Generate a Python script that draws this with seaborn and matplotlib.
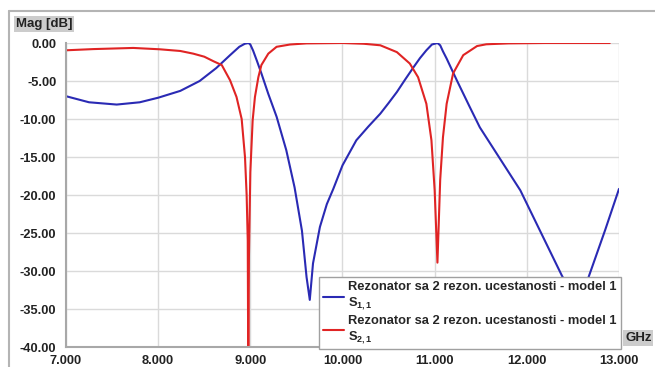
import matplotlib
matplotlib.use("Agg")
import matplotlib.pyplot as plt
import seaborn as sns
import pandas as pd
from matplotlib.lines import Line2D

# S11 (blue)
freq_s11 = [7.00, 7.25, 7.55, 7.80, 8.00, 8.24, 8.45, 8.63, 8.78, 8.88, 8.94, 8.98,
            9.00, 9.03, 9.07, 9.12, 9.195, 9.285, 9.39, 9.48, 9.56, 9.61, 9.645, 9.68,
            9.755, 9.83, 9.90, 10.00, 10.15, 10.28, 10.41, 10.50, 10.59, 10.68,
            10.77, 10.84, 10.91, 10.97, 11.03, 11.06, 11.09, 11.13, 11.24, 11.38, 11.49,
            11.93, 12.38, 12.56, 12.67, 12.85, 13.00]
s11_db = [-7.0, -7.8, -8.1, -7.8, -7.2, -6.3, -5.0, -3.3, -1.6, -0.5, -0.1, 0.0,
          -0.2, -1.0, -2.3, -4.0, -6.7, -9.7, -14.1, -19.0, -24.7, -30.8, -33.8, -29.0,
          -24.2, -21.2, -19.2, -16.1, -12.8, -11.0, -9.3, -7.9, -6.45, -4.8,
          -3.2, -2.0, -0.96, -0.2, 0.0, -0.3, -1.1, -2.05, -4.9, -8.4, -11.1,
          -19.4, -30.6, -34.5, -30.8, -24.6, -19.2]

# S21 (red)
freq_s21 = [7.00, 7.30, 7.73, 8.02, 8.24, 8.38, 8.50, 8.60, 8.69, 8.78, 8.85, 8.906,
            8.942, 8.96, 8.972, 8.978, 8.985, 9.00, 9.025, 9.05, 9.087, 9.12, 9.195,
            9.285, 9.43, 9.61, 10.00, 10.23, 10.41, 10.59, 10.73, 10.82, 10.91,
            10.965, 11.00, 11.03, 11.06, 11.09, 11.13, 11.20, 11.31, 11.46, 11.56,
            11.80, 12.20, 12.90]
s21_db = [-0.96, -0.8, -0.65, -0.83, -1.05, -1.4, -1.8, -2.4, -2.9, -4.9, -7.1, -10.0,
          -15.0, -20.0, -26.0, -45.0, -28.0, -17.0, -10.2, -7.1, -4.5, -2.9, -1.4,
          -0.5, -0.2, -0.05, 0.0, -0.1, -0.3, -1.2, -2.7, -4.5, -8.0,
          -12.8, -19.4, -28.9, -18.0, -12.4, -8.0, -4.0, -1.6, -0.4, -0.17,
          -0.05, 0.0, 0.0]

x_ticks = [7, 8, 9, 10, 11, 12, 13]
y_ticks = [0, -5, -10, -15, -20, -25, -30, -35, -40]
series_name = "Rezonator sa 2 rezon. ucestanosti - model 1"

sns.set_style("white")
plt.rcParams["font.family"] = ["Liberation Sans", "DejaVu Sans"]
plt.rcParams["font.weight"] = "bold"
plt.rcParams["mathtext.fontset"] = "custom"
plt.rcParams["mathtext.rm"] = "Liberation Sans:bold"
plt.rcParams["mathtext.bf"] = "Liberation Sans:bold"
plt.rcParams["mathtext.it"] = "Liberation Sans:bold"
plt.rcParams["mathtext.default"] = "bf"

df11 = pd.DataFrame({"f": freq_s11, "db": s11_db})
df21 = pd.DataFrame({"f": freq_s21, "db": s21_db})

fig = plt.figure(figsize=(6.55, 3.67), dpi=100)
ax = fig.add_axes([66 / 655, 20 / 367, 553 / 655, 304 / 367])

sns.lineplot(data=df11, x="f", y="db", ax=ax, color="#2a2ab4", lw=1.5,
             sort=False, estimator=None, label=series_name + "\nS$_{1,1}$")
sns.lineplot(data=df21, x="f", y="db", ax=ax, color="#e02424", lw=1.5,
             sort=False, estimator=None, label=series_name + "\nS$_{2,1}$")

ax.set_xlim(7, 13)
ax.set_ylim(-40, 0)
ax.set_xticks(x_ticks)
ax.set_xticklabels([f"{v:.3f}" for v in x_ticks])
ax.set_yticks(y_ticks)
ax.set_yticklabels([f"{v:.2f}" for v in y_ticks])
ax.set_xlabel("")
ax.set_ylabel("")
ax.grid(True, color="#dadada", lw=1)
for s in ["top", "right"]:
    ax.spines[s].set_visible(False)
for s in ["left", "bottom"]:
    ax.spines[s].set_color("#a8a8a8")
    ax.spines[s].set_linewidth(1.5)
ax.tick_params(axis="y", length=5, color="#a8a8a8", labelsize=9.3,
               labelcolor="#222222", pad=2)
ax.tick_params(axis="x", length=4, color="#a8a8a8", labelsize=9.3,
               labelcolor="#222222", pad=1.5)
for lab in ax.get_xticklabels() + ax.get_yticklabels():
    lab.set_fontweight("bold")

leg = ax.legend(loc="lower right", bbox_to_anchor=(1.003, -0.008),
                frameon=True, fancybox=False, framealpha=1, edgecolor="#a0a0a0",
                fontsize=9.3, handlelength=1.6, handletextpad=0.35,
                borderpad=0.3, labelspacing=0.2, borderaxespad=0)
leg.get_frame().set_linewidth(1)
leg.set_zorder(5)

fig.text(16 / 655, 1 - 24 / 367, "Mag [dB]", fontsize=9.5, fontweight="bold",
         color="#222222", va="center", ha="left",
         bbox=dict(facecolor="#cccccc", edgecolor="none", boxstyle="square,pad=0.15"))
fig.text(625 / 655, 1 - 338 / 367, "GHz", fontsize=9.5, fontweight="bold",
         color="#222222", va="center", ha="left",
         bbox=dict(facecolor="#cccccc", edgecolor="none", boxstyle="square,pad=0.15"))

# outer frame lines (top and left)
fig.add_artist(Line2D([9 / 655, 1], [1 - 11 / 367, 1 - 11 / 367],
                      transform=fig.transFigure, color="#b4b4b4", lw=1.5))
fig.add_artist(Line2D([9 / 655, 9 / 655], [0, 1 - 11 / 367],
                      transform=fig.transFigure, color="#b4b4b4", lw=1.5))

fig.savefig("out.png", dpi=100)
